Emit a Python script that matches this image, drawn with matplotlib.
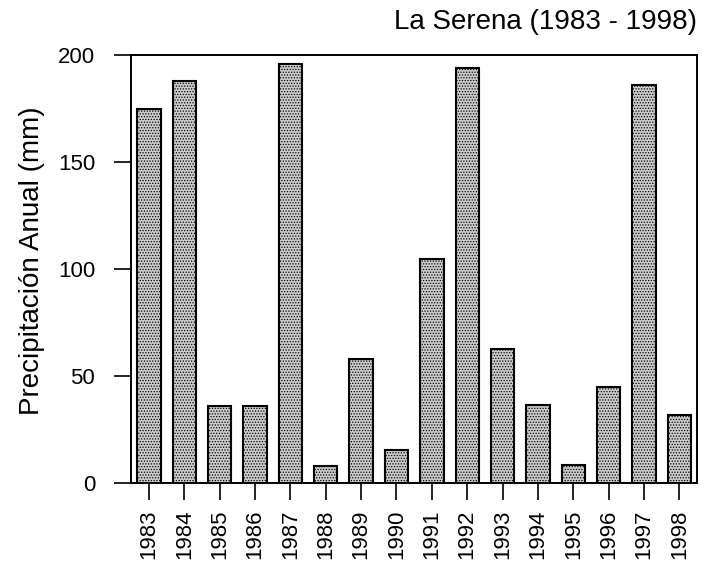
import matplotlib
matplotlib.use('Agg')
import matplotlib.pyplot as plt
import numpy as np

years = ['1983', '1984', '1985', '1986', '1987', '1988', '1989', '1990',
         '1991', '1992', '1993', '1994', '1995', '1996', '1997', '1998']
precip = [175, 188, 36, 36, 196, 8, 58, 15.5, 104.5, 194, 62.5, 36.5, 8.5, 45, 186, 32]

plt.rcParams['font.family'] = ['Liberation Sans', 'DejaVu Sans']
plt.rcParams['hatch.linewidth'] = 0.6
plt.rcParams['hatch.color'] = '#555555'

fig = plt.figure(figsize=(7.02, 5.67), dpi=100)
ax = fig.add_axes([0.187, 0.148, 0.806, 0.755])

x = np.arange(len(years))
ax.bar(x, precip, width=0.66, color='#cccccc', edgecolor='black',
       linewidth=1.5, hatch='......')

ax.set_xlim(-0.5, len(years) - 0.5)
ax.set_ylim(0, 200)
ax.set_yticks([0, 50, 100, 150, 200])
ax.set_xticks(x)
ax.set_xticklabels(years, rotation=90)
ax.tick_params(axis='y', labelsize=16, length=12, width=1.2, direction='out', pad=14)
ax.tick_params(axis='x', labelsize=16, length=12, width=1.2, direction='out', pad=7)
for s in ax.spines.values():
    s.set_linewidth(1.4)

ax.set_ylabel('Precipitación Anual (mm)', fontsize=20)
ax.yaxis.set_label_coords(-0.152, 0.52)
fig.text(0.993, 0.961, 'La Serena (1983 - 1998)', ha='right', va='center', fontsize=20)

fig.savefig('out.png', dpi=100)
